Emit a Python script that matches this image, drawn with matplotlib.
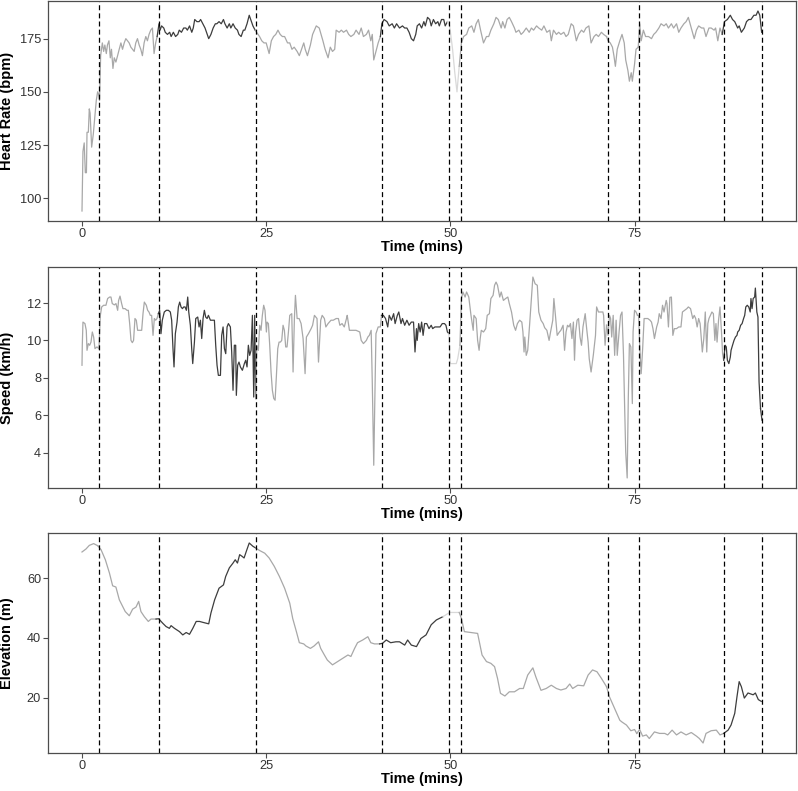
import numpy as np
import matplotlib
matplotlib.use('Agg')
import matplotlib.pyplot as plt

plt.rcParams['font.family'] = ['Liberation Sans', 'DejaVu Sans']

# lap boundaries (mins), drawn as dashed vertical lines
breaks = [2.35, 10.4, 23.67, 40.68, 49.88, 51.41, 71.33, 75.54, 87.2, 92.3]
# shade of each stretch between boundaries: 0 light, 1 dark, 2 very light
seg_kind = [0, 0, 1, 0, 1, 2, 0, 0, 0, 1, 1]
shades = {0: '#a8a8a8', 1: '#3d3d3d', 2: '#d8d8d8'}

# heart rate
hr_t = [0, 0.13, 0.3, 0.45, 0.6, 0.68, 0.86, 0.99, 1.1, 1.31, 1.53, 1.76, 1.94, 2.12, 2.25, 2.38,
        2.53, 2.76, 2.94, 3.1, 3.3, 3.45, 3.66, 3.84, 4.0, 4.2, 4.38, 4.6, 4.83, 5.05, 5.28, 5.5,
        5.73, 5.95, 6.18, 6.4, 6.63, 6.86, 7.08, 7.3, 7.53, 7.76, 7.98, 8.2, 8.43, 8.66, 8.88, 9.1,
        9.33, 9.56, 9.78, 10.0, 10.2, 10.45, 10.6, 10.8, 11.1, 11.3, 11.6, 11.9, 12.1, 12.4, 12.7,
        13.0, 13.2, 13.5, 13.8, 14.1, 14.3, 14.6, 14.9, 15.1, 15.3, 15.6, 15.9, 16.1, 16.4, 16.7,
        17.0, 17.2, 17.5, 17.8, 18.1, 18.3, 18.6, 18.9, 19.2, 19.4, 19.7, 20.0, 20.2, 20.5, 20.8,
        21.1, 21.3, 21.6, 21.9, 22.1, 22.4, 22.7, 22.9, 23.2, 23.5, 23.7, 24.1, 24.4, 24.7, 25.0,
        25.4, 25.7, 26.0, 26.3, 26.6, 26.9, 27.2, 27.5, 27.9, 28.2, 28.5, 28.8, 29.2, 29.5, 29.8,
        30.1, 30.3, 30.6, 31.0, 31.3, 31.8, 32.2, 32.7, 33.0, 33.4, 33.7, 34.0, 34.3, 34.5, 34.9,
        35.2, 35.5, 35.9, 36.2, 36.5, 36.9, 37.2, 37.6, 37.9, 38.2, 38.6, 38.9, 39.2, 39.4, 39.6,
        39.9, 40.2, 40.5, 40.7, 41.0, 41.4, 41.7, 42.1, 42.4, 42.7, 43.1, 43.5, 43.8, 44.1, 44.4,
        44.7, 45.0, 45.3, 45.5, 45.8, 46.1, 46.4, 46.6, 46.9, 47.2, 47.4, 47.7, 48.0, 48.3, 48.5,
        48.8, 49.1, 49.3, 49.6, 49.9, 50.3, 50.6, 50.9, 51.2, 51.5, 51.8, 52.2, 52.5, 52.9, 53.2,
        53.5, 53.8, 54.1, 54.5, 54.9, 55.2, 55.5, 55.9, 56.2, 56.5, 56.9, 57.1, 57.4, 57.7, 58.0,
        58.3, 58.7, 58.9, 59.3, 59.6, 59.9, 60.3, 60.7, 61.0, 61.3, 61.7, 62.0, 62.4, 62.7, 63.1,
        63.5, 63.7, 64.0, 64.4, 64.7, 65.0, 65.4, 65.7, 66.0, 66.4, 66.7, 67.1, 67.4, 67.8, 68.1,
        68.4, 68.8, 69.1, 69.5, 69.8, 70.1, 70.5, 70.8, 71.2, 71.4, 71.7, 72.0, 72.2, 72.4, 72.65,
        73.0, 73.3, 73.6, 73.8, 74.1, 74.3, 74.55, 74.7, 75.0, 75.2, 75.5, 75.7, 75.9, 76.2, 76.5,
        76.9, 77.3, 77.6, 77.9, 78.3, 78.6, 79.0, 79.3, 79.6, 80.0, 80.3, 80.7, 81.0, 81.3, 81.7,
        82.0, 82.3, 82.7, 83.1, 83.4, 83.7, 84.1, 84.4, 84.7, 85.1, 85.4, 85.8, 86.0, 86.3, 86.6,
        86.9, 87.2, 87.6, 88.0, 88.3, 88.6, 89.0, 89.2, 89.5, 89.9, 90.2, 90.5, 90.8, 91.2, 91.5,
        91.75, 92.0, 92.25]
hr_v = [94, 122, 126, 112, 112, 131, 131, 142, 140, 124, 130, 139, 146, 150, 149, 146,
        167, 173, 169, 172, 168, 172, 174, 166, 170, 161, 166, 164, 167, 170, 173, 170,
        173, 175, 174, 173, 171, 170, 169, 173, 175, 172, 170, 167, 173, 176, 174, 177,
        179, 180, 168, 173, 176, 182, 179, 181, 180, 178, 177, 178, 176, 178, 176,
        177, 179, 178, 180, 180, 179, 181, 178, 180, 184, 183, 183, 184, 182, 180,
        177, 175, 177, 180, 182, 182, 183, 182, 184, 182, 180, 182, 180, 182, 180,
        179, 177, 176, 179, 179, 182, 186, 184, 181, 179, 178, 176, 174, 173, 173,
        168, 174, 176, 177, 179, 177, 176, 176, 173, 173, 170, 171, 169, 167, 170,
        173, 170, 167, 172, 177, 181, 180, 174, 170, 166, 171, 169, 170, 179, 178,
        179, 178, 179, 177, 176, 177, 179, 177, 180, 176, 177, 179, 174, 177, 165,
        169, 173, 176, 182, 184, 183, 181, 182, 180, 182, 180, 181, 180, 180, 178,
        175, 174, 177, 181, 182, 180, 183, 181, 185, 184, 181, 184, 182, 183, 181,
        184, 184, 181, 183, 181, 170, 159, 150, 162, 173, 176, 177, 180, 181, 178,
        182, 184, 179, 173, 176, 176, 179, 182, 185, 184, 180, 183, 180, 184, 185,
        183, 180, 178, 179, 177, 178, 180, 178, 180, 179, 181, 180, 179, 181, 178,
        179, 174, 179, 177, 178, 177, 178, 176, 177, 182, 181, 174, 177, 179, 178,
        180, 181, 173, 176, 177, 176, 178, 177, 176, 174, 173, 171, 167, 162, 170,
        174, 177, 173, 165, 160, 155, 159, 155, 163, 170, 171, 182, 174, 179, 176,
        176, 175, 177, 178, 180, 182, 181, 182, 180, 182, 180, 182, 178, 180, 182,
        183, 185, 180, 175, 179, 181, 180, 180, 176, 180, 180, 179, 180, 174, 180,
        177, 183, 184, 186, 184, 183, 180, 181, 178, 180, 183, 184, 184, 186, 186,
        188, 186, 178]

# speed
spd_t = [0, 0.04, 0.13, 0.4, 0.58, 0.68, 0.86, 1.04, 1.22, 1.4, 1.58, 1.76, 2.03, 2.3, 2.49, 2.67,
         2.94, 3.25, 3.48, 3.75, 3.93, 4.11, 4.39, 4.61, 4.84, 4.97, 5.16, 5.38, 5.56, 5.84, 6.11,
         6.29, 6.47, 6.65, 6.83, 7.0, 7.19, 7.37, 7.55, 7.83, 8.1, 8.28, 8.46, 8.73, 8.91, 9.09,
         9.27, 9.45, 9.64, 9.82, 10.0, 10.18, 10.36, 10.54, 10.72, 10.9, 11.17, 11.45, 11.72,
         11.99, 12.17, 12.35, 12.49, 12.67, 12.9, 13.08, 13.26, 13.44, 13.63, 13.81, 13.99, 14.17,
         14.35, 14.49, 14.71, 14.89, 15.03, 15.26, 15.44, 15.71, 15.89, 16.07, 16.25, 16.43, 16.61,
         16.79, 16.98, 17.16, 17.43, 17.7, 17.97, 18.15, 18.33, 18.51, 18.79, 18.96, 19.15, 19.33,
         19.51, 19.69, 19.87, 20.14, 20.32, 20.5, 20.68, 20.86, 20.95, 21.13, 21.31, 21.5, 21.77,
         22.04, 22.22, 22.4, 22.58, 22.76, 22.95, 23.13, 23.31, 23.44, 23.58, 23.72, 23.94, 24.12,
         24.3, 24.48, 24.66, 24.84, 25.03, 25.12, 25.3, 25.48, 25.66, 25.84, 26.03, 26.21, 26.39,
         26.57, 26.75, 26.93, 27.11, 27.29, 27.47, 27.65, 27.83, 28.02, 28.2, 28.47, 28.65, 28.83,
         28.97, 29.2, 29.47, 29.74, 30.01, 30.28, 30.46, 30.74, 31.1, 31.3, 31.55, 31.9, 32.1,
         32.4, 32.6, 32.9, 33.1, 33.4, 33.8, 34.1, 34.5, 34.8, 35.0, 35.3, 35.6, 35.9, 36.0, 36.3,
         36.8, 37.2, 37.7, 37.9, 38.2, 38.6, 38.8, 39.0, 39.25, 39.4, 39.6, 39.75, 39.9, 40.2,
         40.5, 40.65, 40.9, 41.2, 41.5, 41.7, 42.0, 42.3, 42.5, 42.8, 43.0, 43.3, 43.5, 43.8,
         44.1, 44.4, 44.7, 45.0, 45.2, 45.4, 45.5, 45.7, 45.9, 46.1, 46.3, 46.5, 46.8, 47.1, 47.4,
         47.6, 47.9, 48.3, 48.6, 48.9, 49.2, 49.4, 49.6, 49.8, 50.0, 50.3, 50.8, 51.0, 51.3, 51.5,
         51.7, 52.0, 52.2, 52.5, 52.8, 53.1, 53.2, 53.5, 53.7, 53.9, 54.05, 54.2, 54.5, 54.8,
         55.0, 55.3, 55.5, 55.8, 56.0, 56.2, 56.4, 56.7, 56.9, 57.2, 57.5, 57.8, 58.0, 58.3, 58.6,
         58.85, 59.1, 59.4, 59.7, 59.85, 60.0, 60.1, 60.3, 60.5, 60.75, 61.0, 61.2, 61.5, 61.8,
         62.0, 62.3, 62.6, 62.8, 63.1, 63.4, 63.6, 63.9, 64.05, 64.3, 64.5, 64.8, 65.0, 65.3,
         65.5, 65.7, 65.9, 66.1, 66.3, 66.5, 66.7, 66.85, 67.0, 67.2, 67.4, 67.6, 67.8, 68.0,
         68.3, 68.5, 68.7, 68.85, 69.1, 69.4, 69.7, 69.85, 70.1, 70.4, 70.7, 70.8, 71.0, 71.2,
         71.4, 71.6, 71.75, 71.9, 72.1, 72.3, 72.5, 72.65, 72.9, 73.1, 73.3, 73.5, 73.65, 73.8,
         74.0, 74.15, 74.3, 74.5, 74.7, 74.8, 75.0, 75.2, 75.4, 75.55, 75.7, 75.9, 76.1, 76.3,
         76.5, 76.8, 77.1, 77.3, 77.5, 77.7, 78.0, 78.2, 78.35, 78.6, 78.8, 79.0, 79.3, 79.4,
         79.6, 79.8, 80.0, 80.2, 80.4, 80.7, 81.0, 81.3, 81.5, 81.8, 82.1, 82.3, 82.6, 82.9,
         83.1, 83.3, 83.5, 83.7, 83.9, 84.1, 84.2, 84.4, 84.6, 84.8, 84.95, 85.1, 85.3, 85.5,
         85.7, 85.9, 86.05, 86.2, 86.4, 86.6, 86.8, 86.95, 87.1, 87.3, 87.45, 87.6, 87.8, 88.0,
         88.1, 88.3, 88.5, 88.7, 88.9, 89.0, 89.2, 89.4, 89.6, 89.8, 89.95, 90.1, 90.3, 90.5,
         90.7, 90.8, 90.95, 91.1, 91.3, 91.4, 91.6, 91.75, 91.9, 92.1, 92.3]
spd_v = [8.67, 9.74, 10.98, 10.9, 10.54, 9.47, 9.83, 9.74, 9.91, 10.45, 10.18, 9.56, 9.65, 9.56, 11.34, 11.79,
         11.88, 11.88, 12.24, 12.32, 12.32, 11.97, 11.9, 11.97, 11.61, 12.14, 12.37, 11.97, 11.7, 11.7, 11.61,
         11.61, 10.9, 10.0, 9.88, 10.0, 11.17, 11.08, 10.54, 10.54, 10.54, 11.43, 12.05, 11.88, 11.61, 11.52,
         11.34, 11.34, 10.27, 11.17, 11.08, 11.17, 11.43, 11.61, 10.36, 11.08, 11.52, 11.61, 11.61,
         11.52, 11.08, 9.56, 8.58, 10.36, 10.98, 11.79, 12.05, 11.79, 11.7, 11.79, 11.79, 11.61,
         12.32, 11.52, 10.81, 9.56, 8.76, 9.91, 11.17, 11.25, 10.72, 11.08, 10.1, 11.17, 11.61,
         11.25, 11.17, 11.34, 11.08, 11.08, 11.08, 9.74, 8.67, 8.13, 8.13, 10.27, 10.72, 9.56,
         9.29, 10.72, 10.9, 10.72, 9.38, 7.33, 9.74, 9.74, 7.06, 8.67, 8.84, 8.58, 8.4,
         8.76, 8.94, 8.58, 9.74, 9.2, 9.47, 11.34, 6.97, 11.34, 6.89, 9.74, 9.47, 10.81,
         10.54, 11.34, 11.88, 11.61, 10.45, 10.98, 10.9, 9.74, 8.31, 7.33, 6.89, 6.8, 8.13,
         9.56, 9.91, 9.91, 10.0, 10.81, 10.54, 9.65, 9.65, 10.45, 11.34, 11.43, 8.31, 11.17,
         12.41, 11.17, 11.17, 10.9, 10.1, 8.22, 10.18, 10.36, 10.63, 10.81, 11.34, 11.17, 8.84,
         11.08, 11.34, 11.17, 10.72, 10.9, 11.08, 11.08, 11.17, 11.17, 10.81, 10.9, 10.72, 11.17, 11.34, 10.54,
         10.54, 10.54, 10.45, 10.0, 9.83, 10.0, 10.18, 10.27, 10.54, 7.78, 3.32, 6.89, 10.36, 10.72,
         10.72, 11.34, 11.34, 11.17, 10.72, 11.34, 11.08, 11.43, 10.9, 11.34, 11.52, 10.9, 11.17, 10.81,
         11.08, 10.81, 10.98, 10.98, 9.38, 10.63, 10.0, 10.9, 10.45, 10.98, 10.27, 10.9, 10.9, 10.63, 10.81,
         10.63, 10.72, 10.72, 10.72, 10.9, 10.9, 10.81, 10.45, 10.36, 8.76, 8.76, 8.76, 9.02, 9.74, 12.24,
         12.59, 12.32, 12.59, 12.32, 11.34, 10.54, 11.34, 11.17, 10.0, 9.47, 10.1, 10.54, 10.45, 10.63,
         11.34, 11.43, 12.24, 12.41, 12.95, 13.12, 12.95, 12.32, 12.59, 12.14, 12.24, 12.32, 11.97, 11.52, 10.81,
         10.54, 10.9, 11.08, 10.98, 10.45, 9.38, 10.18, 9.2, 9.47, 10.81, 12.24, 13.39, 13.03, 12.95,
         11.52, 11.08, 10.9, 10.68, 10.54, 10.0, 10.45, 11.08, 12.24, 11.17, 10.27, 10.45, 10.54, 10.81,
         9.47, 10.45, 10.81, 10.72, 10.9, 10.1, 10.98, 8.94, 10.45, 11.08, 11.17, 10.18, 9.74, 10.72,
         11.43, 10.63, 9.91, 9.02, 8.31, 9.2, 10.27, 11.79, 11.52, 11.52, 11.52, 11.34, 9.74, 10.81,
         10.27, 11.34, 11.17, 10.18, 11.34, 9.2, 11.08, 9.2, 10.45, 11.34, 11.52, 9.2, 6.53, 4.03,
         2.64, 6.89, 9.83, 9.65, 6.62, 10.45, 11.61, 11.52, 11.34, 11.34, 9.74, 8.22, 9.56, 11.17,
         11.17, 11.17, 11.08, 10.98, 10.63, 10.1, 10.72, 10.98, 11.43, 11.17, 11.88, 11.52, 12.14, 11.97,
         10.72, 12.3, 12.32, 10.27, 10.63, 10.63, 10.72, 10.72, 11.52, 11.61, 11.7, 11.79, 11.7, 11.17,
         11.34, 11.17, 10.72, 11.17, 10.9, 9.91, 9.38, 10.1, 11.52, 9.38, 10.9, 11.17, 11.34, 11.52,
         11.43, 10.0, 10.9, 9.91, 11.08, 11.79, 10.45, 9.29, 8.94, 9.74, 9.65, 8.94, 8.76, 9.11,
         9.47, 9.74, 10.0, 10.18, 10.27, 10.45, 10.54, 10.81, 10.9, 11.17, 11.34, 11.79, 11.88, 11.79,
         11.52, 12.24, 11.7, 12.24, 12.32, 12.8, 11.52, 11.25, 7.78, 6.35, 5.73]

# elevation
ele_t = [0, 0.54, 0.99, 1.58, 2.13, 2.58, 3.17, 3.72, 4.16, 4.6, 5.07, 5.52, 5.87, 6.42, 6.87, 7.33,
         7.69, 8.0, 8.46, 9.0, 9.37, 10.05, 10.4, 10.96, 11.41, 11.86, 12.09, 12.55, 13.23, 13.68,
         14.14, 14.59, 15.04, 15.5, 15.95, 16.4, 17.2, 17.5, 18.0, 18.6, 19.2, 19.5, 20.0, 20.5,
         20.8, 21.1, 21.4, 21.7, 22.0, 22.3, 22.7, 23.2, 23.6, 24.1, 24.8, 25.4, 26.1, 26.8, 27.5,
         28.2, 28.6, 29.1, 29.5, 30.1, 30.4, 31.0, 31.5, 32.1, 32.4, 32.9, 33.3, 34.0, 34.7, 35.4,
         36.1, 36.5, 37.0, 37.4, 38.1, 38.8, 39.2, 39.7, 40.4, 40.8, 41.3, 41.9, 42.6, 43.1, 43.8,
         44.2, 44.7, 45.4, 46.0, 46.7, 47.4, 48.1, 49.0, 49.9, 50.6, 51.2, 51.5, 51.9, 53.7, 54.3,
         54.9, 55.5, 56.0, 56.4, 56.8, 57.4, 58.0, 58.7, 59.4, 59.9, 60.5, 61.2, 61.6, 62.3, 63.0,
         63.7, 64.4, 65.0, 65.7, 66.2, 66.6, 67.3, 68.1, 68.7, 69.3, 69.9, 70.5, 71.2, 71.6, 72.3,
         73.0, 73.3, 73.9, 74.5, 75.0, 75.3, 75.7, 76.1, 76.6, 77.0, 77.7, 78.4, 79.1, 79.5, 80.1,
         80.7, 81.3, 82.0, 82.7, 83.4, 83.8, 84.3, 84.7, 85.4, 86.1, 86.6, 87.1, 87.7, 88.1, 88.6,
         88.9, 89.2, 89.5, 89.9, 90.4, 91.1, 91.4, 91.8, 92.2]
ele_v = [68.7, 69.7, 70.9, 71.5, 70.8, 69.5, 66.1, 61.7, 57.4, 57.0, 52.7, 50.5, 48.8, 47.4, 49.6, 50.3,
         52.2, 48.8, 47.1, 45.5, 46.3, 46.3, 46.4, 44.9, 43.8, 43.2, 44.1, 43.2, 42.1, 41.0,
         41.8, 41.2, 43.2, 45.5, 45.5, 45.2, 44.7, 48.3, 52.7, 56.6, 57.7, 60.5, 63.4, 65.0,
         66.1, 65.0, 67.8, 67.3, 66.7, 68.9, 71.7, 70.6, 70.0, 69.2, 68.3, 66.7, 63.9, 60.5, 56.6,
         51.6, 46.5, 42.1, 38.4, 38.0, 37.3, 36.5, 37.3, 38.7, 36.5, 34.3, 32.6, 31.0, 32.1, 33.2,
         34.3, 33.8, 36.5, 38.4, 39.3, 40.4, 38.4, 38.0, 38.0, 38.2, 39.3, 38.4, 38.7, 38.7, 37.6,
         39.3, 37.6, 37.1, 39.8, 41.0, 44.4, 46.0, 47.1, 48.5, 48.5, 48.5, 46.5, 42.1, 41.5, 34.3,
         32.1, 31.5, 30.4, 26.5, 21.5, 20.6, 22.0, 22.0, 23.1, 23.1, 27.6, 30.0, 27.0, 22.5, 23.1,
         24.2, 23.1, 22.6, 23.1, 24.6, 23.1, 24.2, 24.0, 27.6, 29.3, 28.7, 26.5, 23.7, 20.3, 16.4,
         12.5, 11.9, 10.9, 9.0, 9.4, 8.1, 9.4, 7.2, 7.6, 6.4, 8.6, 8.1, 8.1, 7.6, 9.2,
         7.6, 8.6, 7.6, 8.4, 7.2, 6.4, 4.9, 8.1, 9.0, 9.2, 7.6, 8.1, 9.2, 10.9, 14.8,
         20.3, 25.4, 23.7, 19.9, 21.6, 21.0, 21.6, 19.4, 18.8]

panels = [
    (hr_t, hr_v, 'Heart Rate (bpm)', [100, 125, 150, 175]),
    (spd_t, spd_v, 'Speed (km/h)', [4, 6, 8, 10, 12]),
    (ele_t, ele_v, 'Elevation (m)', [20, 40, 60]),
]


def draw_series(ax, t, v):
    # one line per lap, joined to the last point of the previous lap
    t = np.asarray(t)
    v = np.asarray(v)
    idx = np.searchsorted(breaks, t, side='right')
    for k in np.unique(idx):
        pos = np.where(idx == k)[0]
        i0 = max(pos[0] - 1, 0)
        i1 = pos[-1] + 1
        ax.plot(t[i0:i1], v[i0:i1], color=shades[seg_kind[k]], lw=0.9, solid_joinstyle='round')


def expand(lo, hi, frac=0.05):
    pad = (hi - lo) * frac
    return lo - pad, hi + pad


fig = plt.figure(figsize=(7.98, 7.91), dpi=100)
W, H = 798, 791
boxes = [(1, 221), (267, 488), (533, 753)]  # panel top / bottom in pixels
border = '#4d4d4d'

all_t = np.concatenate([hr_t, spd_t, ele_t, breaks])
xlim = expand(0, all_t.max())

for (t, v, ylab, yticks), (top, bottom) in zip(panels, boxes):
    h = bottom - top
    ax = fig.add_axes([48 / W, 1 - bottom / H, 748 / W, h / H])
    draw_series(ax, t, v)
    for b in breaks:
        ax.axvline(b, color='black', lw=0.9, linestyle=(0, (4, 2.5)))
    ax.set_xlim(xlim)
    ax.set_ylim(expand(min(v), max(v)))
    ax.set_xticks([0, 25, 50, 75])
    ax.set_yticks(yticks)
    for s in ax.spines.values():
        s.set_color(border)
        s.set_linewidth(0.9)
    ax.tick_params(length=3.5, width=0.8, color=border, labelsize=9.2, labelcolor='#333333', pad=1.5)
    ax.set_xlabel('Time (mins)', fontsize=10.5, fontweight='bold')
    ax.set_ylabel(ylab, fontsize=10.5, fontweight='bold')
    ax.xaxis.set_label_coords(0.5, -19 / h)
    ax.yaxis.set_label_coords(-34 / 748, 0.5)

fig.savefig('out.png', dpi=100)
